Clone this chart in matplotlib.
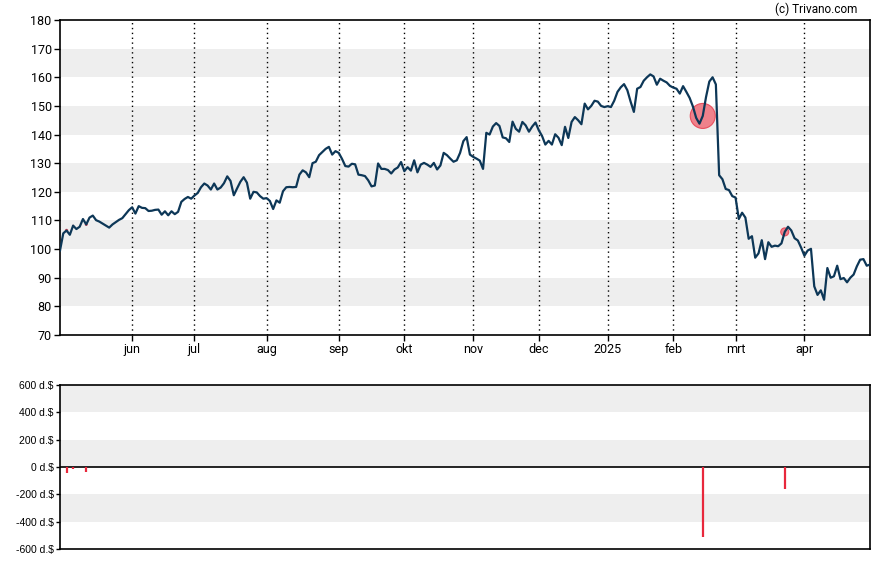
import matplotlib
matplotlib.use('Agg')
import matplotlib.pyplot as plt
import numpy as np
import pandas as pd

# koers per handelsdag (1 mei 2024 - 30 apr 2025)
price = [
    99.5, 105.5, 106.5, 105.0, 108.2, 107.0, 107.8, 110.5, 108.6, 111.0,
    111.7, 110.1, 109.6, 108.9, 108.2, 107.5, 108.6, 109.4, 110.2,
    110.8, 112.2, 113.6, 114.6, 112.4, 115.0, 114.4, 114.3, 113.3, 113.4,
    113.7, 113.8, 112.0, 113.2, 111.8, 113.2, 112.2, 113.0, 116.5,
    117.5, 118.2, 117.6, 118.7, 119.6, 121.6, 122.9, 122.2, 120.8, 122.9,
    120.8, 121.5, 123.0, 125.4, 123.8, 118.8, 121.2, 123.5, 125.1,
    123.2, 117.6, 120.0, 119.8, 118.5, 117.6, 117.8, 116.8, 114.0, 117.0,
    116.2, 120.2, 121.6, 121.7, 121.6, 121.7, 126.0, 127.5, 126.8,
    125.1, 130.0, 130.5, 132.8, 133.9, 135.0, 135.7, 133.0, 134.2, 133.6,
    131.5, 129.0, 128.8, 129.8, 129.6, 126.0, 125.8, 125.5, 124.0,
    121.9, 122.2, 129.9, 128.0, 128.0, 127.6, 126.4, 127.8, 128.5, 130.4,
    127.2, 128.6, 127.4, 131.0, 126.8, 129.5, 130.1, 129.5, 128.7,
    130.1, 127.8, 129.2, 133.6, 132.8, 131.6, 130.5, 131.0, 133.6, 137.7,
    139.1, 133.0, 132.2, 131.6, 130.9, 128.0, 140.6, 140.0, 142.8, 144.0,
    143.0, 139.0, 138.7, 137.4, 144.5, 142.0, 141.0, 144.4, 143.2,
    141.0, 142.8, 144.2, 141.5, 139.5, 136.5, 137.8, 136.5, 140.1, 138.9,
    136.3, 142.7, 138.8, 144.4, 146.1, 145.0, 143.6, 150.8, 148.8,
    150.0, 151.8, 151.5, 150.0, 149.6, 149.9, 149.6, 151.8, 154.9, 156.5,
    157.6, 155.5, 151.5, 147.9, 156.0, 156.6, 158.8, 160.0, 161.0,
    160.3, 157.4, 159.5, 158.8, 158.2, 157.0, 156.4, 156.0, 154.3, 156.9,
    154.9, 152.8, 149.8, 145.8, 143.8, 146.5, 153.1, 158.5, 160.0,
    157.5, 125.8, 124.4, 121.0, 120.6, 118.5, 118.0, 110.5, 112.7, 111.0,
    103.6, 104.5, 97.0, 98.5, 103.1, 96.5, 102.4, 100.8, 101.2,
    101.0, 102.0, 106.0, 107.8, 106.5, 103.8, 103.0, 100.5, 97.7, 99.5,
    100.1, 87.0, 84.0, 85.6, 82.3, 93.4, 90.0, 90.5, 94.2,
    89.5, 89.9, 88.4, 90.0, 91.1, 94.0, 96.3, 96.5, 94.2, 94.6,
]

# beursvrije dagen + twee ontbrekende dagen in oktober
closed = ['2024-05-27', '2024-06-19', '2024-07-04', '2024-09-02', '2024-10-14',
          '2024-10-15', '2024-11-28', '2024-12-25', '2025-01-01', '2025-01-09',
          '2025-01-20', '2025-02-17', '2025-04-18']
dates = pd.bdate_range('2024-05-01', '2025-04-30')
dates = dates[~dates.isin(pd.to_datetime(closed))]
assert len(dates) == len(price)

# insidertransacties (duizend dollar)
trade_dates = ['2024-05-03', '2024-05-07', '2024-05-13', '2025-02-14', '2025-03-24']
trade_amounts = [-46, -12, -39, -510, -163]

month_names = ['jan', 'feb', 'mrt', 'apr', 'mei', 'jun',
               'jul', 'aug', 'sep', 'okt', 'nov', 'dec']

x = np.arange(len(price))
trade_x = [dates.get_loc(pd.Timestamp(d)) for d in trade_dates]
trade_y = [price[i] for i in trade_x]

tick_pos = [i for i in range(1, len(dates)) if dates[i].month != dates[i - 1].month]
tick_lab = [str(dates[i].year) if dates[i].month == 1 else month_names[dates[i].month - 1]
            for i in tick_pos]

band = '#eeeeee'
line_col = '#0d3757'
red = '#e8283c'

fig = plt.figure(figsize=(8.88, 5.65), dpi=100)
ax = fig.add_axes([60 / 888, 1 - 335 / 565, 810 / 888, 315 / 565])
ax2 = fig.add_axes([60 / 888, 1 - 549 / 565, 810 / 888, 164 / 565])

for lo in (80, 100, 120, 140, 160):
    ax.axhspan(lo, lo + 10, color=band, lw=0, zorder=0)
for p in tick_pos:
    ax.axvline(p, color='black', lw=1, ls=(0, (1, 2.5)), zorder=1)

# cirkelgrootte lineair met bedrag
sizes = [(12.5 * abs(a) / 510 * 0.72 * 2) ** 2 for a in trade_amounts]
ax.scatter(trade_x, trade_y, s=sizes, facecolor='#f07580', edgecolor='#e84454',
           lw=0.8, alpha=0.9, zorder=2)
ax.plot(x, price, color=line_col, lw=1.6, zorder=3)

ax.set_xlim(0, len(price) - 1)
ax.set_ylim(70, 180)
ax.set_yticks(range(70, 181, 10))
ax.set_xticks(tick_pos)
ax.set_xticklabels(tick_lab)
for s in ax.spines.values():
    s.set_linewidth(1.2)
ax.tick_params(axis='both', length=4, width=1, labelsize=9, pad=2)
for lab in ax.get_xticklabels() + ax.get_yticklabels():
    lab.set_fontfamily('Roboto')

for lo in (400, 0, -400):
    ax2.axhspan(lo, lo + 200, color=band, lw=0, zorder=0)
ax2.axhline(0, color='black', lw=1.2, zorder=2)
ax2.vlines(trade_x, 0, trade_amounts, color=red, lw=1.6, zorder=3)
ax2.set_xlim(0, len(price) - 1)
ax2.set_ylim(-600, 600)
ax2.set_yticks(range(-600, 601, 200))
ax2.set_yticklabels([f'{v} d.\\$' for v in range(-600, 601, 200)])
ax2.set_xticks([])
for s in ax2.spines.values():
    s.set_linewidth(1.2)
ax2.tick_params(axis='y', length=3, width=1, labelsize=7.5, pad=1.5)
for lab in ax2.get_yticklabels():
    lab.set_fontfamily('Liberation Sans')

fig.text(857 / 888, 1 - 3 / 565, '(c) Trivano.com', ha='right', va='top',
         fontsize=8.5, family='Roboto')

fig.savefig('out.png', dpi=100)
